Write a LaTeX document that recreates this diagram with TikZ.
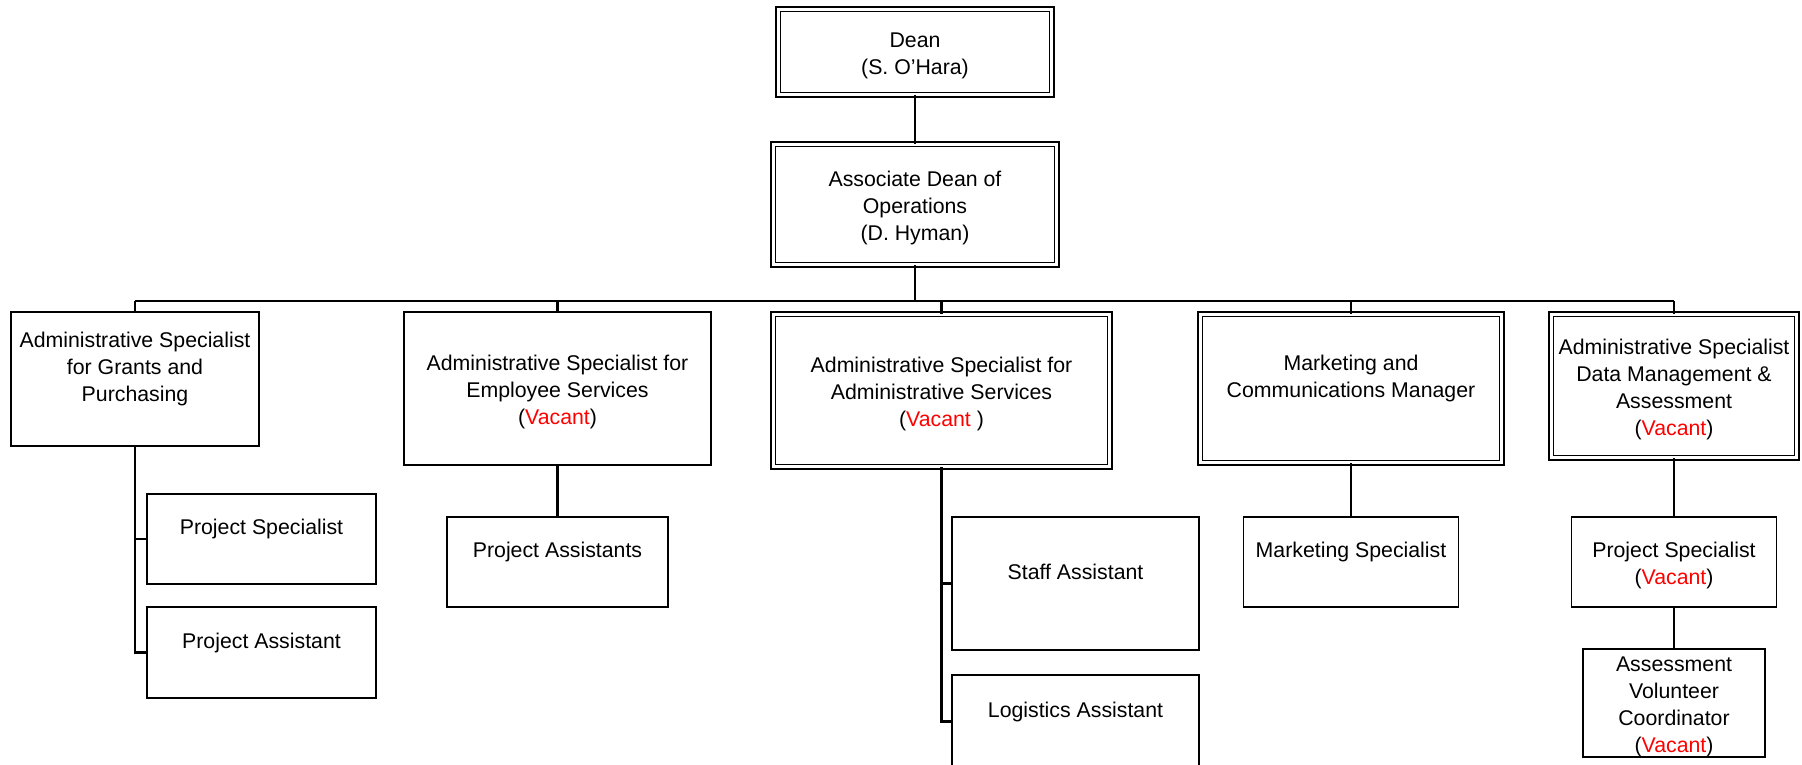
\documentclass[tikz,border=0pt]{standalone}
\usepackage{fontspec}
\setmainfont{Liberation Sans}
\usepackage{xcolor}
\usepackage{tikz}
\usetikzlibrary{positioning}
\usetikzlibrary{calc}

\newcommand{\vacant}{\textcolor{red}{Vacant}}
\newcommand{\linetop}{\rule{0pt}{23pt}}
\newcommand{\linebot}{\rule[-5pt]{0pt}{5pt}}

\tikzset{
  post/.style={draw, line width=1.5pt, align=center, inner sep=0pt,
    font=\fontsize{21.3pt}{26.8pt}\selectfont},
  headpost/.style={post, double, line width=1.4pt, double distance=3.2pt},
  link/.style={line width=2.2pt},
}

\begin{document}
\begin{tikzpicture}[x=1pt, y=-1pt]
      \path[use as bounding box, clip] (0, 0) rectangle (1802, 764);

      \node[headpost, minimum width=273.4, minimum height=85.4] (dean) at (915, 52) {\linetop Dean\\(S. O’Hara)\linebot};
      \node[headpost, minimum width=283.4, minimum height=120.4] (assoc) at (915, 204.5) {\linetop Associate Dean of\\Operations\\(D. Hyman)\linebot};

      \node[post, minimum width=248, minimum height=134] (grants) at (135, 379) {\linetop Administrative Specialist\\for Grants and\\Purchasing\\\linebot};
      \node[post, minimum width=307, minimum height=153] (employee) at (557.5, 388.5) {\linetop Administrative Specialist for\\Employee Services\\(\vacant)\linebot};
      \node[headpost, minimum width=336.4, minimum height=152.4] (adminserv) at (941.5, 390.5) {\linetop Administrative Specialist for\\Administrative Services\\(\vacant\ )\linebot};
      \node[headpost, minimum width=301.4, minimum height=148.4] (marketing) at (1351, 388.5) {\linetop Marketing and\\Communications Manager\\\linebot};
      \node[headpost, minimum width=245.4, minimum height=143.4] (datamgmt) at (1674, 386) {\linetop Administrative Specialist\\Data Management \&\\Assessment\\(\vacant)\linebot};

      \node[post, minimum width=229, minimum height=90] (grantsspec) at (261.5, 539) {\linetop Project Specialist\\\linebot};
      \node[post, minimum width=229, minimum height=91] (grantsasst) at (261.5, 652.5) {\linetop Project Assistant\\\linebot};
      \node[post, minimum width=221, minimum height=90] (empasst) at (557.5, 562) {\linetop Project Assistants\\\linebot};
      \node[post, minimum width=247, minimum height=133] (staffasst) at (1075.5, 583.5) {\linetop Staff Assistant\\\linebot};
      \node[post, minimum width=247, minimum height=93] (logistics) at (1075.5, 721.5) {\linetop Logistics Assistant\\\linebot};
      \node[post, minimum width=215, minimum height=90] (mktspec) at (1351, 562) {\linetop Marketing Specialist\\\linebot};
      \node[post, minimum width=205, minimum height=90] (dataspec) at (1674, 562) {\linetop Project Specialist\\(\vacant)\linebot};
      \node[post, minimum width=182, minimum height=102] (volunteer) at (1674, 703) {\linetop Assessment\\Volunteer\\Coordinator\\(\vacant)\linebot};

      \coordinate (bus) at (915, 301);
      \draw[link] (dean) -- (assoc);
      \draw[link] (assoc) -- (bus);
      \draw[link] (grants.north |- bus) -- (datamgmt.north |- bus);
      \foreach \office in {grants, employee, adminserv, marketing, datamgmt}
        \draw[link] (\office.north |- bus) -- (\office.north);

      \draw[link] (grants.south) |- (grantsasst.west);
      \draw[link] (grants.south |- grantsspec.west) -- (grantsspec.west);
      \draw[link] (adminserv.south) |- (logistics.west);
      \draw[link] (adminserv.south |- staffasst.west) -- (staffasst.west);

      \draw[link] (employee) -- (empasst);
      \draw[link] (marketing) -- (mktspec);
      \draw[link] (datamgmt) -- (dataspec);
      \draw[link] (dataspec) -- (volunteer);

    \end{tikzpicture}
\end{document}
